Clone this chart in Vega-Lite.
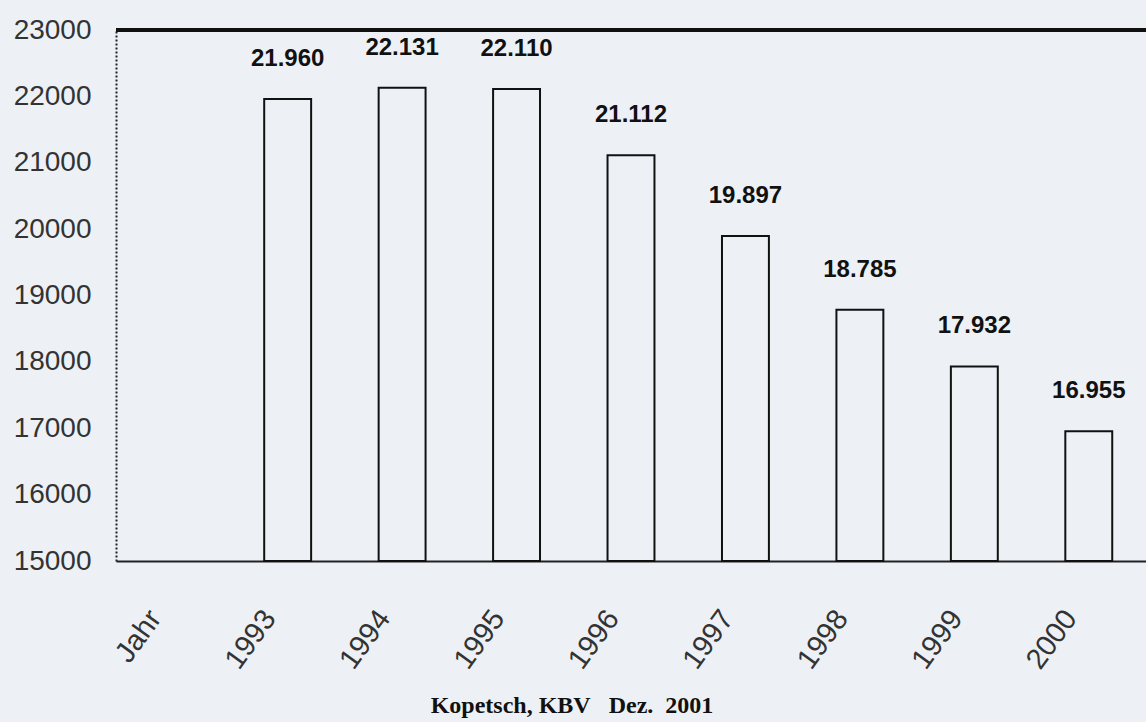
{
  "$schema": "https://vega.github.io/schema/vega-lite/v6.json",
  "width": 1030,
  "height": 531,
  "autosize": {"type": "none"},
  "padding": {"left": 116, "top": 30, "right": 0, "bottom": 161},
  "background": "#edf1f6",
  "config": {
    "view": {"stroke": null},
    "locale": {"number": {"decimal": ",", "thousands": ".", "grouping": [3], "currency": ["", " €"]}}
  },
  "title": {
    "text": "Kopetsch, KBV\u00a0\u00a0 Dez.\u00a0 2001",
    "orient": "bottom",
    "font": "Liberation Serif",
    "fontSize": 24,
    "fontWeight": "bold",
    "color": "#111111",
    "offset": 20,
    "dx": -59
  },
  "data": {
    "values": [
      {"jahr": "1993", "anzahl": 21960},
      {"jahr": "1994", "anzahl": 22131},
      {"jahr": "1995", "anzahl": 22110},
      {"jahr": "1996", "anzahl": 21112},
      {"jahr": "1997", "anzahl": 19897},
      {"jahr": "1998", "anzahl": 18785},
      {"jahr": "1999", "anzahl": 17932},
      {"jahr": "2000", "anzahl": 16955}
    ]
  },
  "encoding": {
    "x": {
      "field": "jahr",
      "type": "nominal",
      "scale": {"domain": ["Jahr", "1993", "1994", "1995", "1996", "1997", "1998", "1999", "2000"], "paddingInner": 0.59, "paddingOuter": 0.295},
      "axis": {
        "title": null,
        "labelAngle": -54,
        "labelFont": "Liberation Sans",
        "labelFontSize": 29,
        "labelColor": "#333333",
        "labelPadding": 52,
        "labelOffset": -18,
        "ticks": false,
        "domainColor": "#222222",
        "domainWidth": 2
      }
    },
    "y": {
      "field": "anzahl",
      "type": "quantitative",
      "scale": {"domain": [15000, 23000], "zero": false, "nice": false},
      "axis": {
        "title": null,
        "format": "d",
        "values": [15000, 16000, 17000, 18000, 19000, 20000, 21000, 22000, 23000],
        "labelFont": "Liberation Sans",
        "labelFontSize": 28,
        "labelColor": "#333333",
        "labelPadding": 25,
        "ticks": false,
        "grid": false,
        "domainColor": "#222222",
        "domainDash": [2, 2],
        "domainWidth": 2
      }
    }
  },
  "layer": [
    {
      "mark": {"type": "bar", "fill": "#edf1f6", "stroke": "#111111", "strokeWidth": 2},
      "encoding": {
        "y2": {"datum": 15000}
      }
    },
    {
      "mark": {"type": "text", "dy": -40, "font": "Liberation Sans", "fontSize": 24, "fontWeight": "bold", "color": "#111111"},
      "encoding": {
        "text": {"field": "anzahl", "type": "quantitative", "format": ",d"}
      }
    },
    {
      "mark": {"type": "rule", "color": "#111111", "strokeWidth": 3},
      "encoding": {
        "x": {"value": 0},
        "x2": {"value": 1030},
        "y": {"datum": 23000, "type": "quantitative"}
      }
    }
  ]
}
